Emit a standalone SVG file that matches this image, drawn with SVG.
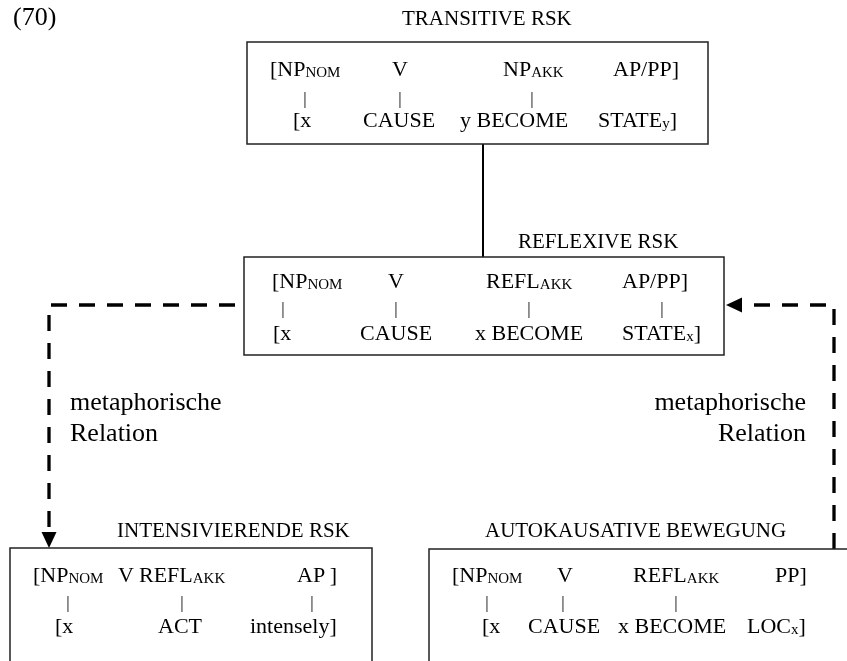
<svg xmlns="http://www.w3.org/2000/svg" width="847" height="661" viewBox="0 0 847 661">
  <style>
    text { font-family: "Liberation Serif", "Times New Roman", serif; fill: #000; }
    .c { font-size: 22px; }
    .h { font-size: 21px; }
    .s { font-size: 15px; }
    .lab { font-size: 26px; }
    .p { font-size: 17px; text-anchor: middle; fill: #000; }
    .box { fill: #fff; stroke: #222; stroke-width: 1.5; }
    .solid { fill: none; stroke: #000; stroke-width: 2; }
    .dash { fill: none; stroke: #000; stroke-width: 3.3; stroke-dasharray: 16 12; marker-end: url(#arr); }
  </style>
  <defs>
    <marker id="arr" markerUnits="userSpaceOnUse" markerWidth="16" markerHeight="16" refX="0" refY="8" orient="auto" viewBox="0 0 16 16">
      <path d="M0,0.5 L16,8 L0,15.5 z" fill="#000"/>
    </marker>
    <!-- grey-scale rendering for all ink (removes coloured sub-pixel fringes on thin glyphs) -->
    <filter id="mono" filterUnits="userSpaceOnUse" x="0" y="0" width="847" height="661">
      <feColorMatrix type="saturate" values="0"/>
    </filter>
  </defs>
  <rect width="847" height="661" fill="#fff"/>

  <g filter="url(#mono)">
    <g id="example-number">
      <text class="lab" x="13" y="25">(70)</text>
    </g>

    <!-- connectors and their labels -->
    <g id="connectors">
      <line class="solid" x1="483" y1="144" x2="483" y2="257"/>
      <path class="dash" d="M235,305 H49 V532"/>
      <path class="dash" d="M834,549 V305 H742"/>
      <text class="lab" x="70" y="410">metaphorische</text>
      <text class="lab" x="70" y="441">Relation</text>
      <text class="lab" x="806" y="410" text-anchor="end">metaphorische</text>
      <text class="lab" x="806" y="441" text-anchor="end">Relation</text>
    </g>

    <g id="node-transitive">
      <text class="h" x="402" y="25">TRANSITIVE RSK</text>
      <rect class="box" x="247" y="42" width="461" height="102"/>
      <text class="c" x="270" y="76">[NP<tspan class="s" dy="1">NOM</tspan></text>
      <text class="c" x="392" y="76">V</text>
      <text class="c" x="503" y="76">NP<tspan class="s" dy="1">AKK</tspan></text>
      <text class="c" x="613" y="76">AP/PP]</text>
      <text class="p" x="305" y="104">|</text>
      <text class="p" x="400" y="104">|</text>
      <text class="p" x="532" y="104">|</text>
      <text class="c" x="293" y="127">[x</text>
      <text class="c" x="363" y="127">CAUSE</text>
      <text class="c" x="460" y="127">y BECOME</text>
      <text class="c" x="598" y="127">STATE<tspan class="s" dy="1">y</tspan><tspan dy="-1">]</tspan></text>
    </g>

    <g id="node-reflexive">
      <text class="h" x="518" y="248">REFLEXIVE RSK</text>
      <rect class="box" x="244" y="257" width="480" height="98"/>
      <text class="c" x="272" y="288">[NP<tspan class="s" dy="1">NOM</tspan></text>
      <text class="c" x="388" y="288">V</text>
      <text class="c" x="486" y="288">REFL<tspan class="s" dy="1">AKK</tspan></text>
      <text class="c" x="622" y="288">AP/PP]</text>
      <text class="p" x="283" y="314">|</text>
      <text class="p" x="396" y="314">|</text>
      <text class="p" x="529" y="314">|</text>
      <text class="p" x="662" y="314">|</text>
      <text class="c" x="273" y="340">[x</text>
      <text class="c" x="360" y="340">CAUSE</text>
      <text class="c" x="475" y="340">x BECOME</text>
      <text class="c" x="622" y="340">STATE<tspan class="s" dy="1">x</tspan><tspan dy="-1">]</tspan></text>
    </g>

    <g id="node-intensivierend">
      <text class="h" x="117" y="537">INTENSIVIERENDE RSK</text>
      <rect class="box" x="10" y="548" width="362" height="140"/>
      <text class="c" x="33" y="582">[NP<tspan class="s" dy="1">NOM</tspan></text>
      <text class="c" x="118" y="582">V REFL<tspan class="s" dy="1">AKK</tspan></text>
      <text class="c" x="297" y="582">AP ]</text>
      <text class="p" x="68" y="608">|</text>
      <text class="p" x="182" y="608">|</text>
      <text class="p" x="312" y="608">|</text>
      <text class="c" x="55" y="633">[x</text>
      <text class="c" x="158" y="633">ACT</text>
      <text class="c" x="250" y="633">intensely]</text>
    </g>

    <g id="node-autokausativ">
      <text class="h" x="485" y="537">AUTOKAUSATIVE BEWEGUNG</text>
      <rect class="box" x="429" y="549" width="440" height="140"/>
      <text class="c" x="452" y="582">[NP<tspan class="s" dy="1">NOM</tspan></text>
      <text class="c" x="557" y="582">V</text>
      <text class="c" x="633" y="582">REFL<tspan class="s" dy="1">AKK</tspan></text>
      <text class="c" x="775" y="582">PP]</text>
      <text class="p" x="487" y="608">|</text>
      <text class="p" x="563" y="608">|</text>
      <text class="p" x="676" y="608">|</text>
      <text class="c" x="482" y="633">[x</text>
      <text class="c" x="528" y="633">CAUSE</text>
      <text class="c" x="618" y="633">x BECOME</text>
      <text class="c" x="747" y="633">LOC<tspan class="s" dy="1">x</tspan><tspan dy="-1">]</tspan></text>
    </g>
  </g>
</svg>
